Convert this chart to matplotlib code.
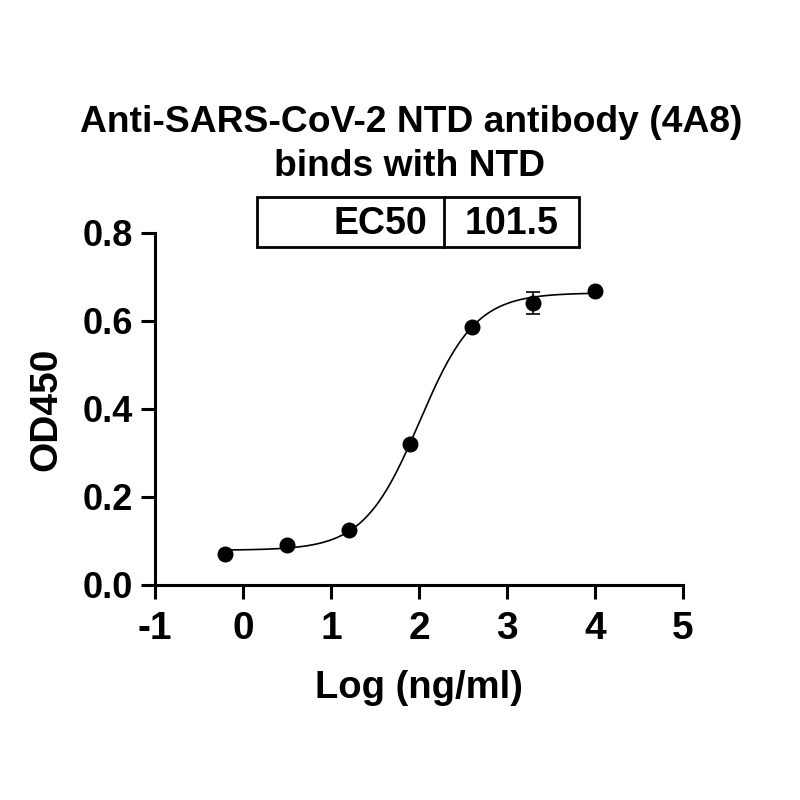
import numpy as np
import matplotlib
matplotlib.use('Agg')
import matplotlib.pyplot as plt
from matplotlib.patches import Rectangle
from matplotlib.lines import Line2D

### Data
log_conc = [-0.2, 0.5, 1.2, 1.9, 2.6, 3.3, 4.0]
od450 = [0.070, 0.090, 0.124, 0.321, 0.586, 0.640, 0.668]
od450_err = [0.0, 0.0, 0.0, 0.0, 0.0, 0.025, 0.0]

# 4PL fit reported with the plot
ec50 = 101.5
fit_bottom = 0.079
fit_top = 0.664
fit_hill = 1.37

title = 'Anti-SARS-CoV-2 NTD antibody (4A8)\nbinds with NTD'
xticks = [-1, 0, 1, 2, 3, 4, 5]
yticks = [0.0, 0.2, 0.4, 0.6, 0.8]

def four_pl(x):
  return fit_bottom + (fit_top - fit_bottom)/(1. + 10.**((np.log10(ec50) - x)*fit_hill))

plt.rcParams['font.family'] = ['Liberation Sans', 'DejaVu Sans']
plt.rcParams['font.weight'] = 'bold'

### Figure
fig = plt.figure(figsize=(8, 8), dpi=100)
ax = fig.add_axes([0.19375, 0.26875, 0.66, 0.44])

xs = np.linspace(log_conc[0], log_conc[-1], 300)
ax.plot(xs, four_pl(xs), color='black', lw=1.2, zorder=2)
ax.errorbar(log_conc, od450, yerr=od450_err, fmt='o', color='black',
            ms=10.5, capsize=5, elinewidth=1.2, capthick=1.2, zorder=3)

ax.set_xlim(-1, 5)
ax.set_ylim(0, 0.8)
ax.set_xticks(xticks)
ax.set_xticklabels([str(t) for t in xticks])
ax.set_yticks(yticks)
ax.set_yticklabels(['%.1f' % t for t in yticks])

for s in ['top', 'right']:
  ax.spines[s].set_visible(False)
for s in ['left', 'bottom']:
  ax.spines[s].set_linewidth(2.2)
ax.tick_params(width=2.2, length=10, direction='out')
ax.tick_params(axis='x', labelsize=28, pad=9)
ax.tick_params(axis='y', labelsize=26, pad=6)

ax.set_xlabel('Log (ng/ml)', fontsize=27.5, fontweight='bold', labelpad=16)
ax.set_ylabel('OD450', fontsize=28, fontweight='bold', labelpad=13)

# title, one line per row
title_lines = title.split('\n')
fig.text(411/800., 1 - 132/800., title_lines[0], ha='center', va='baseline',
         fontsize=26.8, fontweight='bold')
fig.text(410/800., 1 - 176/800., title_lines[1], ha='center', va='baseline',
         fontsize=26.8, fontweight='bold')

# EC50 box
bx0, bx1, bdiv = 257/800., 579/800., 444/800.
by0, by1 = 1 - 247/800., 1 - 197/800.
fig.add_artist(Rectangle((bx0, by0), bx1 - bx0, by1 - by0, transform=fig.transFigure,
                         fill=False, lw=2.0, ec='black'))
fig.add_artist(Line2D([bdiv, bdiv], [by0, by1], transform=fig.transFigure, lw=2.0, color='black'))
base = 1 - 234/800.
fig.text(bdiv - 17/800., base, 'EC50', ha='right', va='baseline', fontsize=27,
         fontweight='bold')
fig.text((bdiv + bx1)/2., base, '%.1f' % ec50, ha='center', va='baseline', fontsize=27,
         fontweight='bold')

fig.savefig('out.png', dpi=100)
